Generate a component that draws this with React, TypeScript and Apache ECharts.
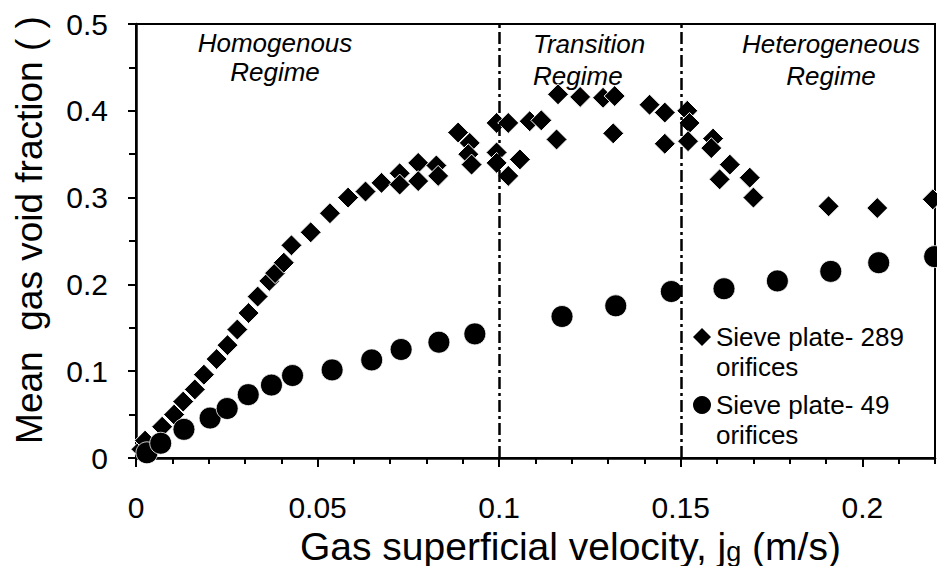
import React, { useEffect, useRef } from 'react';
import * as echarts from 'echarts';

const FONT = '"Liberation Sans", Arial, sans-serif';

const NAME_289 = 'Sieve plate- 289 orifices';
const NAME_49 = 'Sieve plate- 49 orifices';

// Sieve plate - 289 orifices (diamonds)
const jg289 = [
  0.0015, 0.0025, 0.0072, 0.0105, 0.013, 0.0162, 0.0187, 0.0222, 0.0252, 0.0279,
  0.031, 0.0335, 0.0367, 0.0383, 0.0407, 0.0428, 0.0481, 0.0534, 0.0584, 0.0632,
  0.0676, 0.0726, 0.0726, 0.0777, 0.0777, 0.0827, 0.0832, 0.0887, 0.0919, 0.0915,
  0.0924, 0.0993, 0.1025, 0.0993, 0.0993, 0.1025, 0.1057, 0.1084, 0.1116, 0.1162,
  0.1158, 0.1223, 0.1286, 0.1318, 0.1314, 0.1414, 0.1456, 0.1456, 0.1518, 0.1524,
  0.152, 0.1589, 0.1584, 0.1635, 0.1607, 0.169, 0.17, 0.1907, 0.2041, 0.2194,
];
const void289 = [
  0.01, 0.02, 0.036, 0.05, 0.065, 0.079, 0.096, 0.114, 0.13, 0.148,
  0.167, 0.186, 0.204, 0.213, 0.225, 0.245, 0.26, 0.282, 0.3, 0.307,
  0.317, 0.328, 0.315, 0.34, 0.319, 0.337, 0.325, 0.375, 0.363, 0.35,
  0.338, 0.386, 0.386, 0.352, 0.34, 0.325, 0.344, 0.388, 0.389, 0.419,
  0.367, 0.416, 0.415, 0.417, 0.374, 0.407, 0.398, 0.362, 0.4, 0.386,
  0.365, 0.368, 0.357, 0.338, 0.321, 0.323, 0.3, 0.29, 0.288, 0.298,
];

// Sieve plate - 49 orifices (circles)
const jg49 = [
  0.003, 0.0068, 0.0132, 0.0204, 0.0251, 0.0309, 0.0373, 0.0431, 0.054, 0.0649,
  0.073, 0.0834, 0.0933, 0.1173, 0.1321, 0.1474, 0.1619, 0.1766, 0.1913, 0.2045,
  0.2199,
];
const void49 = [
  0.006, 0.017, 0.033, 0.046, 0.057, 0.073, 0.084, 0.095, 0.1015, 0.113,
  0.125, 0.1334, 0.143, 0.163, 0.1753, 0.1918, 0.195, 0.204, 0.215, 0.225,
  0.232,
];

const regimeBounds = [0.1, 0.15];

const X_MIN = 0;
const X_MAX = 0.22;
const X_MAJOR = 0.05;
const X_MINOR = 0.01;
const Y_MIN = 0;
const Y_MAX = 0.5;
const Y_MAJOR = 0.1;

const X_TITLE_MAIN = 'Gas superficial velocity, j';
const X_TITLE_SUB = 'g';
const X_TITLE_END = ' (m/s)';
const Y_TITLE = 'Mean  gas void fraction ( )';

const regimeLabels = [
  { text: 'Homogenous\nRegime', x: 275, y: 57, align: 'center', lh: 29 },
  { text: 'Transition\nRegime', x: 533, y: 60, align: 'left', lh: 32 },
  { text: 'Heterogeneous\nRegime', x: 831, y: 60, align: 'center', lh: 32 },
];

export default function App() {
  const ref = useRef<HTMLDivElement>(null);

  useEffect(() => {
    if (!ref.current) return;
    const chart = echarts.init(ref.current, undefined, { renderer: 'svg' });

    const d289 = jg289.map((x, i) => [x, void289[i]]);
    const d49 = jg49.map((x, i) => [x, void49[i]]);

    const legendCommon = {
      orient: 'vertical',
      padding: 0,
      itemWidth: 18,
      itemHeight: 18,
      itemGap: 0,
      itemStyle: { borderWidth: 0, opacity: 1 },
      selectedMode: false,
      // a leading empty line keeps the marker level with the first text line
      formatter: (name: string) => '\n' + name.replace(' orifices', '\norifices'),
      textStyle: {
        fontFamily: FONT,
        fontSize: 26,
        color: '#000',
        lineHeight: 30,
      },
    };

    chart.setOption({
      animation: false,
      backgroundColor: '#fff',
      grid: {
        left: 136,
        top: 24,
        width: 799,
        height: 434,
        show: true,
        borderColor: '#000',
        borderWidth: 2,
        backgroundColor: 'transparent',
      },
      legend: [
        { ...legendCommon, data: [NAME_289], left: 693, top: 292 },
        { ...legendCommon, data: [NAME_49], left: 693, top: 360 },
      ],
      xAxis: [
        {
          type: 'value',
          min: X_MIN,
          max: X_MAX,
          interval: X_MAJOR,
          position: 'bottom',
          axisLine: { show: true, onZero: false, lineStyle: { color: '#000', width: 2.5 } },
          axisTick: { show: true, length: 9, lineStyle: { color: '#000', width: 2 } },
          axisLabel: {
            show: true,
            showMaxLabel: false,
            fontFamily: FONT,
            fontSize: 30,
            lineHeight: 30,
            color: '#000',
            margin: 34,
          },
          splitLine: { show: false },
        },
        {
          type: 'value',
          min: X_MIN,
          max: X_MAX,
          interval: X_MINOR,
          position: 'bottom',
          axisLine: { show: false },
          axisTick: { show: true, length: 6, lineStyle: { color: '#000', width: 2 } },
          axisLabel: { show: false },
          splitLine: { show: false },
        },
      ],
      yAxis: {
        type: 'value',
        min: Y_MIN,
        max: Y_MAX,
        interval: Y_MAJOR,
        axisLine: { show: true, onZero: false, lineStyle: { color: '#000', width: 2.5 } },
        axisTick: { show: true, length: 8, lineStyle: { color: '#000', width: 2 } },
        minorTick: { show: true, splitNumber: 2, length: 7, lineStyle: { color: '#000', width: 2 } },
        axisLabel: { fontFamily: FONT, fontSize: 30, color: '#000', margin: 28 },
        splitLine: { show: false },
      },
      series: [
        {
          name: NAME_289,
          type: 'scatter',
          xAxisIndex: 0,
          symbol: 'diamond',
          symbolSize: 21,
          clip: true,
          itemStyle: { color: '#000', opacity: 1, borderColor: '#fff', borderWidth: 1 },
          data: d289,
          markLine: {
            silent: true,
            symbol: ['none', 'none'],
            label: { show: false },
            lineStyle: { color: '#000', width: 2.5, type: [12, 4, 3, 4], opacity: 1 },
            data: regimeBounds.map((v) => ({ xAxis: v })),
          },
        },
        {
          name: NAME_49,
          type: 'scatter',
          xAxisIndex: 0,
          symbol: 'circle',
          symbolSize: 22,
          clip: true,
          itemStyle: { color: '#000', opacity: 1, borderColor: '#fff', borderWidth: 0.8 },
          data: d49,
        },
      ],
      graphic: [
        ...regimeLabels.map((r) => ({
          type: 'text',
          x: r.x,
          y: r.y,
          style: {
            text: r.text,
            fontFamily: FONT,
            fontStyle: 'italic',
            fontSize: 26,
            lineHeight: r.lh,
            fill: '#000',
            textAlign: r.align,
            textVerticalAlign: 'middle',
          },
        })),
        {
          type: 'text',
          x: 300,
          y: 546,
          style: {
            text: `{n|${X_TITLE_MAIN}}{s|${X_TITLE_SUB}}{n|${X_TITLE_END}}`,
            textAlign: 'left',
            textVerticalAlign: 'middle',
            rich: {
              n: { fontFamily: FONT, fontSize: 39, lineHeight: 38, fill: '#000', color: '#000' },
              s: {
                fontFamily: FONT,
                fontSize: 27,
                lineHeight: 24,
                verticalAlign: 'bottom',
                fill: '#000',
                color: '#000',
              },
            },
          },
        },
        {
          type: 'text',
          x: 29,
          y: 230,
          rotation: Math.PI / 2,
          style: {
            text: Y_TITLE,
            fontFamily: FONT,
            fontSize: 37,
            fill: '#000',
            textAlign: 'center',
            textVerticalAlign: 'middle',
          },
        },
      ],
    });

    return () => chart.dispose();
  }, []);

  return (
    <div
      ref={ref}
      style={{ position: 'fixed', left: 0, top: 0, width: 937, height: 566, background: '#fff' }}
    />
  );
}
